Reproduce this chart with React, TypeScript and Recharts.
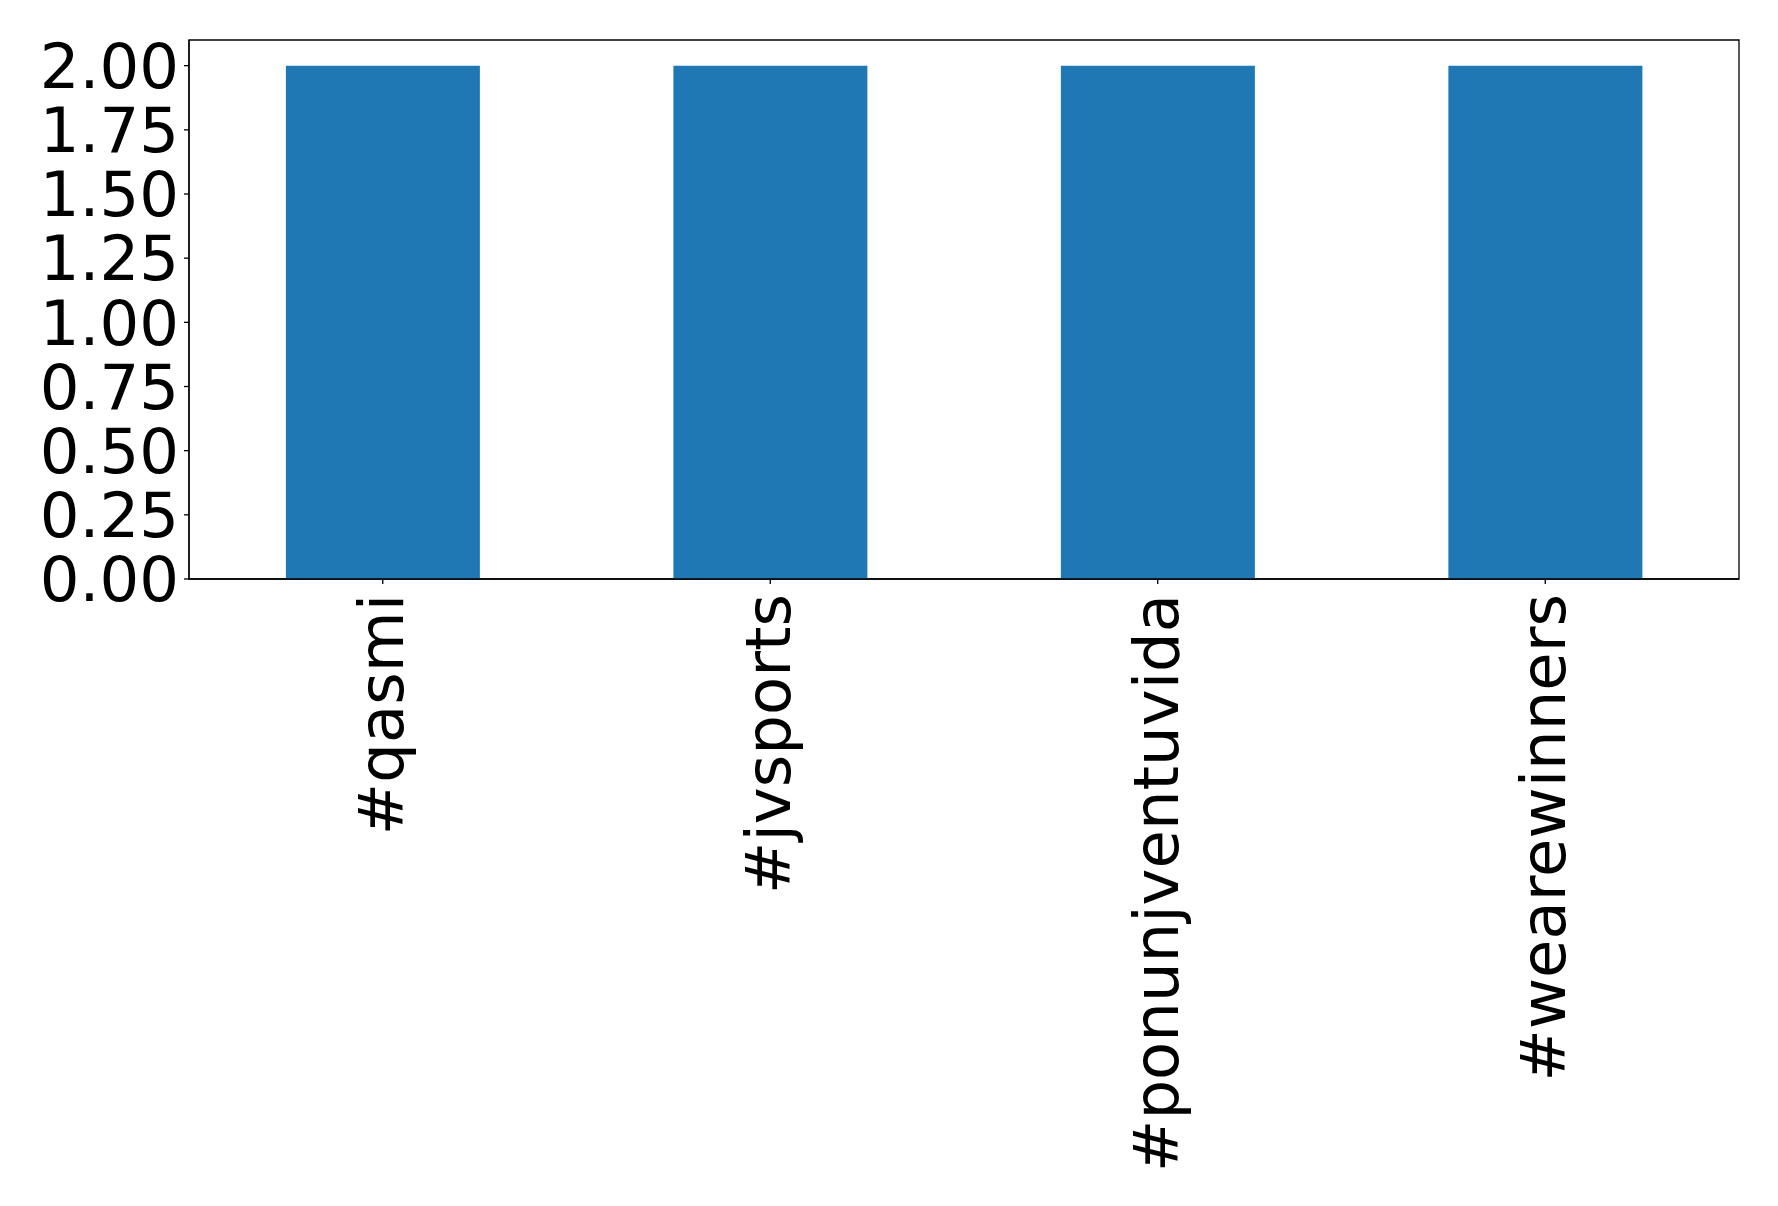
import React from "react";
import { BarChart, Bar, XAxis, YAxis, ReferenceArea } from "recharts";

const categories = ["#qasmi", "#jvsports", "#ponunjventuvida", "#wearewinners"];
const counts = [2, 2, 2, 2];
const yTicks = [0, 0.25, 0.5, 0.75, 1.0, 1.25, 1.5, 1.75, 2.0];
const yMax = 2.1;

const data = categories.map((c, i) => ({ name: c, value: counts[i] }));

const FONT = "DejaVu Sans";
const FS = 62.5;

const XTick = (props: any) => {
  const { x, y, payload } = props;
  return (
    <text
      x={x}
      y={y + 8}
      transform={`rotate(-90, ${x}, ${y + 8})`}
      textAnchor="end"
      dy="0.32em"
      fontSize={FS}
      fontFamily={FONT}
      fill="#000"
    >
      {payload.value}
    </text>
  );
};

export default function App() {
  return (
    <div style={{ position: "absolute", left: 0, top: 0, background: "#fff" }}>
      <BarChart
        width={1778}
        height={1206}
        data={data}
        margin={{ top: 40, right: 39, left: 0, bottom: 0 }}
        barCategoryGap="25%"
      >
        <XAxis
          dataKey="name"
          height={627}
          interval={0}
          tick={<XTick />}
          tickSize={5}
          axisLine={{ stroke: "#000", strokeWidth: 1.3 }}
          tickLine={{ stroke: "#000", strokeWidth: 1.3 }}
        />
        <YAxis
          width={189}
          domain={[0, yMax]}
          ticks={yTicks}
          interval={0}
          tickFormatter={(v: number) => v.toFixed(2)}
          tick={{ fontSize: FS, fontFamily: FONT, fill: "#000" }}
          tickSize={5}
          tickMargin={5}
          axisLine={{ stroke: "#000", strokeWidth: 1.3 }}
          tickLine={{ stroke: "#000", strokeWidth: 1.3 }}
        />
        <Bar dataKey="value" fill="#1f77b4" isAnimationActive={false} />
        <ReferenceArea
          y1={0}
          y2={yMax}
          fill="none"
          fillOpacity={0}
          stroke="#000"
          strokeWidth={1.3}
          ifOverflow="visible"
        />
      </BarChart>
    </div>
  );
}
